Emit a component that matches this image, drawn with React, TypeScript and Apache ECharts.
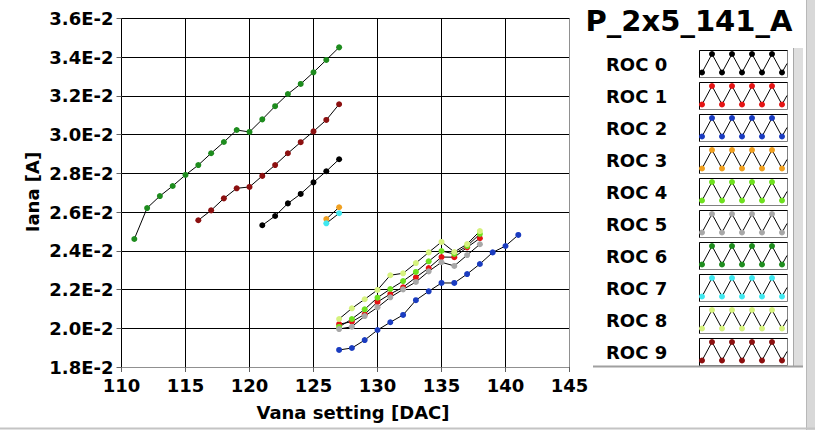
import React, { useEffect, useRef } from "react";
import * as echarts from "echarts";

const FONT = '"DejaVu Sans", Verdana, sans-serif';

const rocNames = ["ROC 0", "ROC 1", "ROC 2", "ROC 3", "ROC 4", "ROC 5", "ROC 6", "ROC 7", "ROC 8", "ROC 9"];
const rocColors = ["#000000", "#e41414", "#1a3cc0", "#f0a020", "#6ee01e", "#a8a8a8", "#1e8c1e", "#40e8f0", "#d6f27e", "#8c1010"];

const roc0X = [121, 122, 123, 124, 125, 126, 127];
const roc0Y = [0.02532, 0.0258, 0.02645, 0.02694, 0.02754, 0.02811, 0.02873];

const roc1X = [127, 128, 129, 130, 131, 132, 133, 134, 135, 136, 137, 138];
const roc1Y = [0.02021, 0.02034, 0.02072, 0.02136, 0.02177, 0.02212, 0.02263, 0.02311, 0.02368, 0.02367, 0.02418, 0.02465];

const roc2X = [127, 128, 129, 130, 131, 132, 133, 134, 135, 136, 137, 138, 139, 140, 141];
const roc2Y = [0.01888, 0.01898, 0.01939, 0.01991, 0.02031, 0.02069, 0.02145, 0.02191, 0.02234, 0.02234, 0.0228, 0.02332, 0.02392, 0.02425, 0.02482];

const roc3X = [126, 127];
const roc3Y = [0.02564, 0.02625];

const roc4X = [127, 128, 129, 130, 131, 132, 133, 134, 135, 136, 137, 138];
const roc4Y = [0.02007, 0.02048, 0.02098, 0.02158, 0.02203, 0.02244, 0.02291, 0.02346, 0.02399, 0.02384, 0.02425, 0.02487];

const roc5X = [127, 128, 129, 130, 131, 132, 133, 134, 135, 136, 137, 138];
const roc5Y = [0.01996, 0.02008, 0.02063, 0.02108, 0.0216, 0.02201, 0.02239, 0.02294, 0.02341, 0.02322, 0.02378, 0.02434];

const roc6X = [111, 112, 113, 114, 115, 116, 117, 118, 119, 120, 121, 122, 123, 124, 125, 126, 127];
const roc6Y = [0.02461, 0.02621, 0.02683, 0.02735, 0.02792, 0.02843, 0.02904, 0.02962, 0.03024, 0.03014, 0.03079, 0.03147, 0.0321, 0.03262, 0.03322, 0.03386, 0.03451];

const roc7X = [126, 127];
const roc7Y = [0.02542, 0.02594];

const roc8X = [127, 128, 129, 130, 131, 132, 133, 134, 135, 136, 137, 138];
const roc8Y = [0.02048, 0.02103, 0.0215, 0.02198, 0.02274, 0.02284, 0.02337, 0.02392, 0.02446, 0.02394, 0.02435, 0.02502];

const roc9X = [116, 117, 118, 119, 120, 121, 122, 123, 124, 125, 126, 127];
const roc9Y = [0.02558, 0.02609, 0.02671, 0.02723, 0.0273, 0.02787, 0.02843, 0.02904, 0.02961, 0.03017, 0.03076, 0.03157];

const allX = [roc0X, roc1X, roc2X, roc3X, roc4X, roc5X, roc6X, roc7X, roc8X, roc9X];
const allY = [roc0Y, roc1Y, roc2Y, roc3Y, roc4Y, roc5Y, roc6Y, roc7Y, roc8Y, roc9Y];

const titleText = "P_2x5_141_A";
const xName = "Vana setting [DAC]";
const yName = "Iana [A]";

function buildLegend(): any[] {
  const els: any[] = [];
  const boxX = 699.5;
  const boxW = 88;
  const boxH = 27;
  for (let i = 0; i < rocNames.length; i++) {
    const by = 50.5 + 32 * i;
    els.push({
      type: "text",
      x: 606,
      y: by + 14,
      style: { text: rocNames[i], font: `bold 18px ${FONT}`, fill: "#000", textAlign: "left", textVerticalAlign: "middle" },
    });
    els.push({ type: "rect", shape: { x: boxX, y: by, width: boxW, height: boxH }, style: { fill: "#fff", stroke: "#808080", lineWidth: 1 } });
    els.push({ type: "polyline", shape: { points: [[boxX, by + boxH], [boxX, by], [boxX + boxW, by]] }, style: { stroke: "#000", lineWidth: 1, fill: null } });
    const pts: number[][] = [];
    for (let k = 0; k < 9; k++) {
      const px = 702 + 10 * k;
      const py = k % 2 === 0 ? by + 22 : by + 3.5;
      pts.push([px, py]);
    }
    const line = pts.concat([[787, by + 13]]);
    els.push({ type: "polyline", shape: { points: line }, style: { stroke: "#000", lineWidth: 1, fill: null } });
    pts.forEach((p) => {
      els.push({ type: "circle", shape: { cx: p[0], cy: p[1], r: 3 }, style: { fill: rocColors[i] } });
    });
  }
  return els;
}

export default function App() {
  const ref = useRef<HTMLDivElement>(null);
  useEffect(() => {
    if (!ref.current) return;
    const chart = echarts.init(ref.current, undefined, { renderer: "svg" });
    const series = rocNames.map((name, i) => ({
      name,
      type: "line",
      data: allX[i].map((x, j) => [x, allY[i][j]]),
      symbol: "circle",
      symbolSize: 6,
      showSymbol: true,
      lineStyle: { color: "#000", width: 1 },
      itemStyle: { color: rocColors[i] },
      emphasis: { disabled: true },
      z: 3,
    }));
    chart.setOption({
      animation: false,
      backgroundColor: "#ffffff",
      grid: { left: 121.5, right: 245.5, top: 18.5, bottom: 63, containLabel: false },
      xAxis: {
        type: "value",
        min: 110,
        max: 145,
        interval: 5,
        axisLine: { show: true, lineStyle: { color: "#909090", width: 1 } },
        axisTick: { show: true, length: 5, lineStyle: { color: "#606060" } },
        axisLabel: { margin: 9, color: "#000", fontFamily: FONT, fontWeight: "bold", fontSize: 18 },
        splitLine: { show: true, lineStyle: { color: "#000", width: 1 } },
      },
      yAxis: {
        type: "value",
        min: 0.018,
        max: 0.036,
        interval: 0.002,
        axisLine: { show: true, lineStyle: { color: "#000", width: 1 } },
        axisTick: { show: true, length: 5, lineStyle: { color: "#606060" } },
        axisLabel: {
          margin: 8,
          color: "#000",
          fontFamily: FONT,
          fontWeight: "bold",
          fontSize: 18,
          formatter: (v: number) => (v * 100).toFixed(1) + "E-2",
        },
        splitLine: { show: true, lineStyle: { color: "#000", width: 1 } },
      },
      series,
      graphic: [
        { type: "line", z: 1, shape: { x1: 569.5, y1: 18.5, x2: 569.5, y2: 367 }, style: { stroke: "#909090", lineWidth: 1 } },
        { type: "text", x: 689, y: 21, style: { text: titleText, font: `bold 29px ${FONT}`, fill: "#000", textAlign: "center", textVerticalAlign: "middle" } },
        { type: "text", x: 353, y: 412, style: { text: xName, font: `bold 18px ${FONT}`, fill: "#000", textAlign: "center", textVerticalAlign: "middle" } },
        { type: "text", x: 32, y: 192, rotation: Math.PI / 2, style: { text: yName, font: `bold 18px ${FONT}`, fill: "#000", textAlign: "center", textVerticalAlign: "middle" } },
        { type: "rect", shape: { x: 793, y: 48, width: 10, height: 319 }, style: { fill: "#dedede" } },
        { type: "line", shape: { x1: 793.5, y1: 48, x2: 793.5, y2: 367 }, style: { stroke: "#a8a8a8", lineWidth: 1 } },
        { type: "line", shape: { x1: 593, y1: 366.5, x2: 803, y2: 366.5 }, style: { stroke: "#a0a0a0", lineWidth: 2 } },
        { type: "rect", shape: { x: 806, y: 0, width: 9, height: 430 }, style: { fill: "#d8d8d8" } },
        { type: "line", shape: { x1: 806.5, y1: 0, x2: 806.5, y2: 430 }, style: { stroke: "#b8b8b8", lineWidth: 1 } },
        { type: "line", shape: { x1: 0, y1: 428.5, x2: 815, y2: 428.5 }, style: { stroke: "#c4c4c4", lineWidth: 2 } },
        ...buildLegend(),
      ],
    });
    return () => chart.dispose();
  }, []);
  return <div ref={ref} style={{ position: "absolute", left: 0, top: 0, width: 815, height: 430, background: "#fff" }} />;
}
